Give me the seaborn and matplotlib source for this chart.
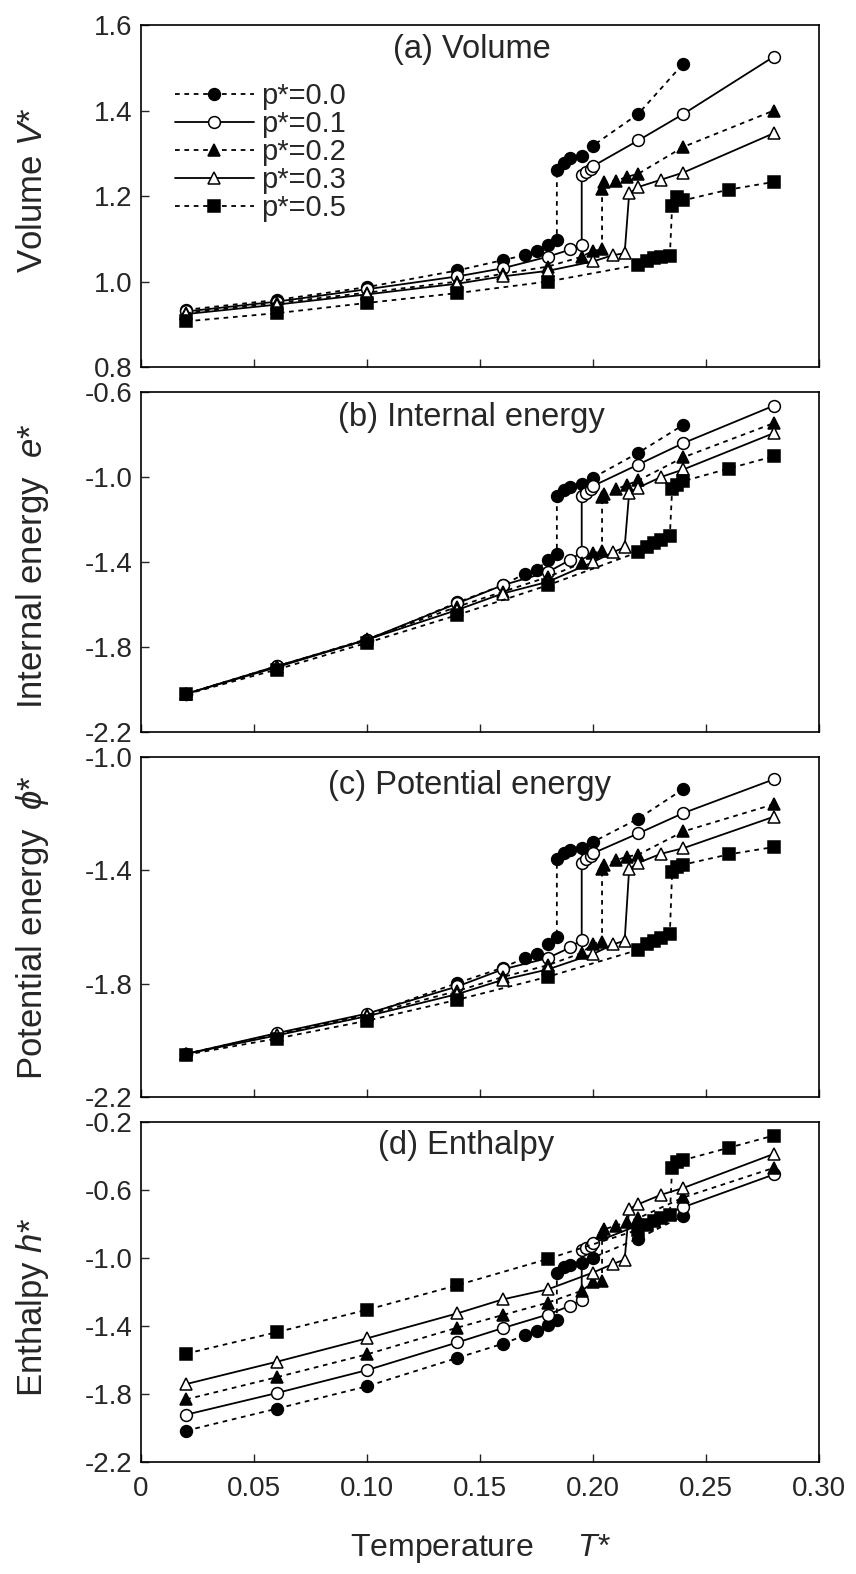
import matplotlib
matplotlib.use("Agg")
import matplotlib.pyplot as plt
import seaborn as sns

sns.set_style("white")
plt.rcParams['font.family'] = ['Liberation Sans', 'DejaVu Sans']
plt.rcParams['axes.unicode_minus'] = False
plt.rcParams['mathtext.fontset'] = 'custom'
plt.rcParams['mathtext.it'] = 'Liberation Sans:italic'
plt.rcParams['mathtext.rm'] = 'Liberation Sans'

# ---------------- data ----------------
series_labels = ["p*=0.0", "p*=0.1", "p*=0.2", "p*=0.3", "p*=0.5"]

T_p00 = [0.02, 0.06, 0.10, 0.14, 0.16, 0.17, 0.175, 0.18, 0.184, 0.184, 0.187, 0.19, 0.195, 0.20, 0.22, 0.24]
T_p01 = [0.02, 0.06, 0.10, 0.14, 0.16, 0.18, 0.19, 0.195, 0.195, 0.197, 0.199, 0.20, 0.22, 0.24, 0.28]
T_p02 = [0.02, 0.06, 0.10, 0.14, 0.16, 0.18, 0.195, 0.20, 0.204, 0.204, 0.205, 0.21, 0.215, 0.22, 0.24, 0.28]
T_p03 = [0.02, 0.06, 0.10, 0.14, 0.16, 0.18, 0.20, 0.209, 0.214, 0.216, 0.22, 0.23, 0.24, 0.28]
T_p05 = [0.02, 0.06, 0.10, 0.14, 0.18, 0.22, 0.224, 0.227, 0.23, 0.234, 0.235, 0.237, 0.24, 0.26, 0.28]

# (a) Volume V*
V_p00 = [0.934, 0.957, 0.987, 1.026, 1.05, 1.062, 1.072, 1.085, 1.097, 1.262, 1.277, 1.29, 1.294, 1.318, 1.392, 1.51]
V_p01 = [0.93, 0.953, 0.982, 1.012, 1.031, 1.058, 1.075, 1.085, 1.249, 1.256, 1.264, 1.27, 1.33, 1.392, 1.526]
V_p02 = [0.926, 0.95, 0.974, 1.0, 1.018, 1.035, 1.058, 1.072, 1.075, 1.217, 1.233, 1.235, 1.245, 1.252, 1.315, 1.40]
V_p03 = [0.924, 0.946, 0.97, 0.995, 1.012, 1.025, 1.047, 1.062, 1.066, 1.206, 1.221, 1.238, 1.255, 1.347]
V_p05 = [0.907, 0.926, 0.95, 0.973, 1.0, 1.039, 1.047, 1.054, 1.058, 1.06, 1.176, 1.198, 1.19, 1.215, 1.233]

# (b) Internal energy e*
e_p00 = [-2.02, -1.89, -1.769, -1.59, -1.509, -1.454, -1.436, -1.392, -1.364, -1.089, -1.06, -1.047, -1.031, -1.003, -0.886, -0.754]
e_p01 = [-2.02, -1.89, -1.765, -1.594, -1.509, -1.447, -1.389, -1.353, -1.089, -1.073, -1.058, -1.042, -0.941, -0.84, -0.664]
e_p02 = [-2.02, -1.892, -1.762, -1.61, -1.54, -1.47, -1.405, -1.358, -1.349, -1.095, -1.078, -1.058, -1.037, -1.016, -0.907, -0.746]
e_p03 = [-2.02, -1.895, -1.765, -1.625, -1.548, -1.493, -1.40, -1.353, -1.33, -1.073, -1.05, -1.0, -0.964, -0.793]
e_p05 = [-2.022, -1.906, -1.78, -1.649, -1.509, -1.353, -1.33, -1.311, -1.296, -1.275, -1.058, -1.037, -1.019, -0.96, -0.902]

# (c) Potential energy phi*
phi_p00 = [-2.048, -1.977, -1.91, -1.798, -1.744, -1.709, -1.695, -1.66, -1.637, -1.36, -1.338, -1.33, -1.323, -1.30, -1.218, -1.113]
phi_p01 = [-2.048, -1.975, -1.906, -1.81, -1.75, -1.71, -1.672, -1.645, -1.374, -1.362, -1.351, -1.34, -1.27, -1.198, -1.079]
phi_p02 = [-2.048, -1.981, -1.91, -1.826, -1.777, -1.735, -1.692, -1.659, -1.652, -1.397, -1.383, -1.365, -1.352, -1.345, -1.263, -1.167]
phi_p03 = [-2.048, -1.983, -1.915, -1.837, -1.787, -1.75, -1.696, -1.661, -1.649, -1.395, -1.374, -1.342, -1.322, -1.211]
phi_p05 = [-2.051, -1.994, -1.931, -1.857, -1.776, -1.681, -1.662, -1.648, -1.638, -1.624, -1.407, -1.39, -1.38, -1.344, -1.318]

# (d) Enthalpy h*
h_p00 = [-2.016, -1.887, -1.755, -1.588, -1.505, -1.455, -1.43, -1.396, -1.363, -1.087, -1.055, -1.04, -1.03, -0.998, -0.886, -0.752]
h_p01 = [-1.922, -1.795, -1.66, -1.497, -1.413, -1.333, -1.281, -1.245, -0.954, -0.941, -0.93, -0.913, -0.808, -0.701, -0.509]
h_p02 = [-1.832, -1.702, -1.567, -1.41, -1.336, -1.263, -1.193, -1.144, -1.134, -0.852, -0.831, -0.811, -0.788, -0.766, -0.644, -0.47]
h_p03 = [-1.742, -1.611, -1.473, -1.326, -1.244, -1.185, -1.086, -1.034, -1.01, -0.711, -0.684, -0.629, -0.588, -0.388]
h_p05 = [-1.563, -1.437, -1.305, -1.16, -1.006, -0.834, -0.807, -0.784, -0.767, -0.745, -0.469, -0.438, -0.424, -0.352, -0.28]

x_ticks = [0, 0.05, 0.10, 0.15, 0.20, 0.25, 0.30]
x_ticklabels = ["0", "0.05", "0.10", "0.15", "0.20", "0.25", "0.30"]

panel_titles = ["(a) Volume", "(b) Internal energy", "(c) Potential energy", "(d) Enthalpy"]
y_labels = ["Volume $V$*", "Internal energy  $e$*", r"Potential energy  $\phi$*", "Enthalpy $h$*"]
y_limits = [(0.8, 1.6), (-2.2, -0.6), (-2.2, -1.0), (-2.2, -0.2)]
y_ticks = [[0.8, 1.0, 1.2, 1.4, 1.6],
           [-2.2, -1.8, -1.4, -1.0, -0.6],
           [-2.2, -1.8, -1.4, -1.0],
           [-2.2, -1.8, -1.4, -1.0, -0.6, -0.2]]
y_ticklabels = [["0.8", "1.0", "1.2", "1.4", "1.6"],
                ["-2.2", "-1.8", "-1.4", "-1.0", "-0.6"],
                ["-2.2", "-1.8", "-1.4", "-1.0"],
                ["-2.2", "-1.8", "-1.4", "-1.0", "-0.6", "-0.2"]]

T_all = [T_p00, T_p01, T_p02, T_p03, T_p05]
panels = [[V_p00, V_p01, V_p02, V_p03, V_p05],
          [e_p00, e_p01, e_p02, e_p03, e_p05],
          [phi_p00, phi_p01, phi_p02, phi_p03, phi_p05],
          [h_p00, h_p01, h_p02, h_p03, h_p05]]

# ---------------- styles ----------------
dash = (0, (2.6, 2.6))
styles = [
    dict(marker='o', markerfacecolor='k', linestyle=dash, markersize=8.5),
    dict(marker='o', markerfacecolor='white', linestyle='-', markersize=8.5),
    dict(marker='^', markerfacecolor='k', linestyle=dash, markersize=9),
    dict(marker='^', markerfacecolor='white', linestyle='-', markersize=9),
    dict(marker='s', markerfacecolor='k', linestyle=dash, markersize=8),
]

fig = plt.figure(figsize=(8.56, 15.74), dpi=100)
rects = [[0.1647, 0.7668, 0.7921, 0.2173],
         [0.1647, 0.5349, 0.7921, 0.2160],
         [0.1647, 0.3031, 0.7921, 0.2160],
         [0.1647, 0.0712, 0.7921, 0.2160]]
title_pos = [(0.488, 0.927), (0.488, 0.926), (0.485, 0.917), (0.48, 0.930)]
ylabel_y = [0.879, 0.640, 0.4104, 0.1696]

for i, rect in enumerate(rects):
    ax = fig.add_axes(rect)
    for j in range(5):
        sns.lineplot(x=T_all[j], y=panels[i][j], ax=ax, estimator=None, sort=False,
                     color='k', linewidth=1.3, markeredgecolor='k', markeredgewidth=1.1,
                     label=series_labels[j], legend=False, **styles[j])
    ax.set_xlim(0, 0.30)
    ax.set_ylim(*y_limits[i])
    ax.set_xticks(x_ticks)
    if i == 3:
        ax.set_xticklabels(x_ticklabels)
    else:
        ax.set_xticklabels([])
    ax.set_yticks(y_ticks[i])
    ax.set_yticklabels(y_ticklabels[i])
    ax.tick_params(direction='in', length=6, width=1.0, labelsize=20, pad=6,
                   top=False, right=False, bottom=True, left=True)
    ax.tick_params(axis='x', pad=10)
    for sp in ax.spines.values():
        sp.set_linewidth(1.2)
        sp.set_color('k')
    ax.set_xlabel('')
    ax.set_ylabel('')
    ax.text(title_pos[i][0], title_pos[i][1], panel_titles[i], transform=ax.transAxes,
            ha='center', va='center', fontsize=23.5)
    fig.text(33 / 856, ylabel_y[i], y_labels[i], rotation=90, ha='center', va='center', fontsize=25)
    if i == 0:
        handles = ax.get_lines()[:5]
        ax.legend(handles, series_labels, loc='upper left', bbox_to_anchor=(0.05, 0.833),
                  frameon=False, fontsize=21, labelspacing=0.0, handlelength=2.7,
                  handletextpad=0.25, borderpad=0, borderaxespad=0)

fig.text(0.561, 0.016, "Temperature     $T$*", ha='center', va='center', fontsize=23)

fig.savefig("out.png", dpi=100)
